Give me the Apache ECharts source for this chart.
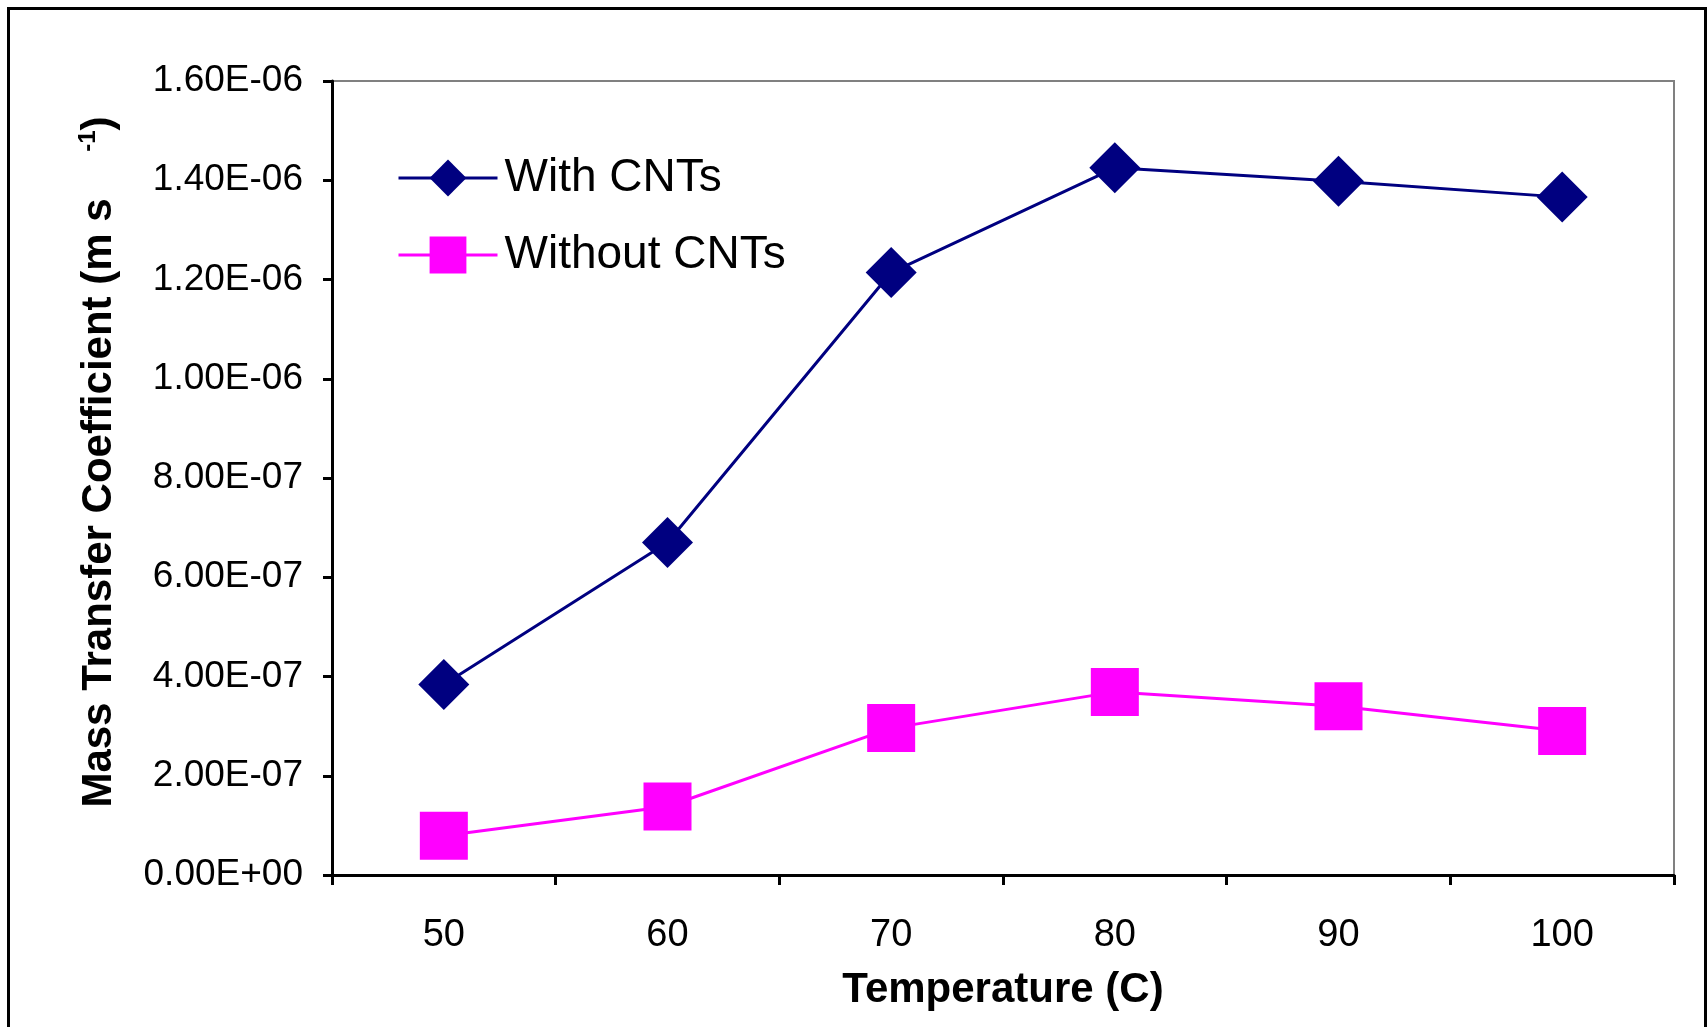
<!DOCTYPE html>
<html><head><meta charset="utf-8">
<script src="https://cdn.jsdelivr.net/npm/echarts@6/dist/echarts.min.js"></script>
<style>html,body{margin:0;padding:0;background:#fff}#c{width:1708px;height:1027px}</style>
</head><body><div id="c"></div>
<script>
const categories = ['50','60','70','80','90','100'];
const withCNTs = [3.84e-7, 6.70e-7, 1.214e-6, 1.425e-6, 1.398e-6, 1.366e-6];
const withoutCNTs = [7.9e-8, 1.38e-7, 2.96e-7, 3.69e-7, 3.40e-7, 2.90e-7];
const seriesNames = ['With CNTs', 'Without CNTs'];

const FONT = 'Liberation Sans, Arial, sans-serif';
const chart = echarts.init(document.getElementById('c'), null, {renderer: 'canvas'});
chart.setOption({
  animation: false,
  backgroundColor: '#fff',
  textStyle: {fontFamily: FONT},
  graphic: [{
    type: 'rect', left: 6, top: 6, z: -1,
    shape: {width: 1697, height: 1040},
    style: {fill: 'none', stroke: '#000', lineWidth: 3}
  }],
  grid: {left: 332, top: 81, width: 1342, height: 794, show: true, borderColor: '#808080', borderWidth: 2, backgroundColor: 'transparent'},
  legend: {
    left: 392, top: 150, orient: 'vertical',
    itemWidth: 99, itemHeight: 46, itemGap: 31,
    lineStyle: {width: 3},
    textStyle: {fontSize: 46, color: '#000', fontFamily: FONT, padding: [0,0,0,2]},
    data: seriesNames
  },
  xAxis: {
    type: 'category', data: categories, boundaryGap: true,
    axisLine: {lineStyle: {color: '#000', width: 3}},
    axisTick: {show: true, length: 10, lineStyle: {color: '#000', width: 3}, alignWithLabel: false},
    axisLabel: {fontSize: 38, color: '#000', margin: 42, fontFamily: FONT},
    splitLine: {show: false},
    name: 'Temperature (C)', nameLocation: 'middle', nameGap: 94,
    nameTextStyle: {fontSize: 42, fontWeight: 'bold', color: '#000', fontFamily: FONT}
  },
  yAxis: {
    type: 'value', min: 0, max: 1.6e-6, interval: 2e-7,
    axisLine: {show: true, lineStyle: {color: '#000', width: 3}},
    axisTick: {show: true, length: 9, lineStyle: {color: '#000', width: 3}},
    axisLabel: {fontSize: 37, color: '#000', margin: 29, fontFamily: FONT,
      formatter: v => {
        if (v === 0) return '0.00E+00';
        const e = Math.floor(Math.log10(v) + 1e-9);
        const m = v / Math.pow(10, e);
        return m.toFixed(2) + 'E-' + String(-e).padStart(2, '0');
      }},
    splitLine: {show: false},
    name: '{t|Mass Transfer Coefficient (m s    }{sup|-1}{t|)}', nameLocation: 'middle', nameGap: 210, nameRotate: 90,
    nameTextStyle: {fontSize: 42, fontWeight: 'bold', color: '#000', fontFamily: FONT, padding: [0,0,0,32],
      rich: {
        t: {fontSize: 42, fontWeight: 'bold', color: '#000', fontFamily: FONT, lineHeight: 46},
        sup: {fontSize: 24, fontWeight: 'bold', color: '#000', fontFamily: FONT, verticalAlign: 'top', lineHeight: 46, padding: [0,0,22,0]}
      }}
  },
  series: [
    {name: seriesNames[0], type: 'line', data: withCNTs, symbol: 'diamond', symbolSize: 51,
      lineStyle: {color: '#000080', width: 3}, itemStyle: {color: '#000080'}},
    {name: seriesNames[1], type: 'line', data: withoutCNTs, symbol: 'rect', symbolSize: 48,
      lineStyle: {color: '#FF00FF', width: 3}, itemStyle: {color: '#FF00FF'}}
  ]
});
</script></body></html>
